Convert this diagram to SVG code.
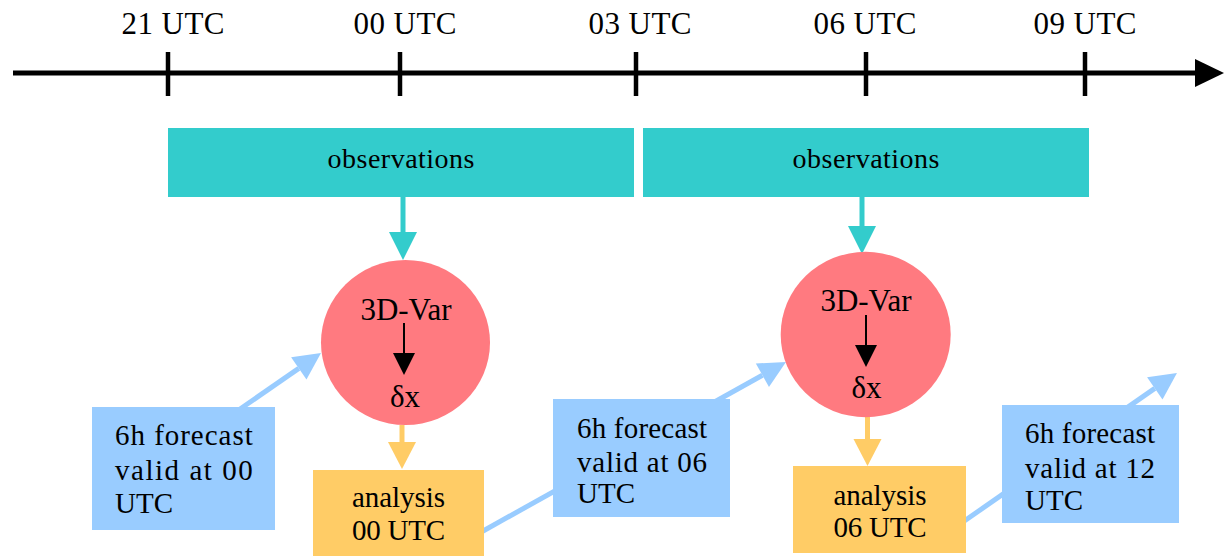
<svg xmlns="http://www.w3.org/2000/svg" width="1228" height="556" viewBox="0 0 1228 556" font-family="'Liberation Serif', 'DejaVu Serif', serif">
<style>
  text { font-family: 'Liberation Serif', 'Times New Roman', 'DejaVu Serif', serif; fill: #000; }
  .tl { font-size: 31px; text-anchor: middle; }
  .obs { font-size: 28px; text-anchor: middle; }
  .var { font-size: 31px; text-anchor: middle; }
  .dx { font-size: 31px; text-anchor: middle; }
  .lbl { font-size: 29px; }
  .mid { text-anchor: middle; }
  .teal { fill: #33CCCC; }
  .red { fill: #FF7A80; }
  .blue { fill: #99CCFF; }
  .orange { fill: #FFCC66; }
  .c-teal { stroke: #33CCCC; stroke-width: 5; fill: none; }
  .c-blue { stroke: #99CCFF; stroke-width: 5; fill: none; }
  .c-orange { stroke: #FFCC66; stroke-width: 5; fill: none; }
  .c-black { stroke: #000; stroke-width: 2; fill: none; }
  .axis { stroke: #000; stroke-width: 5; fill: none; }
  .tick { stroke: #000; stroke-width: 4.5; }
</style>
<defs>
  <marker id="hTeal" markerUnits="userSpaceOnUse" markerWidth="30" markerHeight="30" refX="0" refY="0" viewBox="0 -15 30 30" orient="auto" overflow="visible">
    <path d="M0,-14 L28,0 L0,14 z" fill="#33CCCC"/>
  </marker>
  <marker id="hBlue" markerUnits="userSpaceOnUse" markerWidth="30" markerHeight="30" refX="0" refY="0" viewBox="0 -15 30 30" orient="auto" overflow="visible">
    <path d="M0,-13.5 L27,0 L0,13.5 z" fill="#99CCFF"/>
  </marker>
  <marker id="hOrange" markerUnits="userSpaceOnUse" markerWidth="30" markerHeight="30" refX="0" refY="0" viewBox="0 -15 30 30" orient="auto" overflow="visible">
    <path d="M0,-14 L27,0 L0,14 z" fill="#FFCC66"/>
  </marker>
  <marker id="hBlack" markerUnits="userSpaceOnUse" markerWidth="30" markerHeight="30" refX="0" refY="0" viewBox="0 -15 30 30" orient="auto" overflow="visible">
    <path d="M0,-11 L22,0 L0,11 z" fill="#000"/>
  </marker>
  <marker id="hAxis" markerUnits="userSpaceOnUse" markerWidth="30" markerHeight="30" refX="0" refY="0" viewBox="0 -15 30 30" orient="auto" overflow="visible">
    <path d="M0,-14 L29,0 L0,14 z" fill="#000"/>
  </marker>
</defs>

<g id="timeline">
  <line class="axis" x1="13" y1="73" x2="1195" y2="73" marker-end="url(#hAxis)"/>
  <line class="tick" x1="168" y1="52" x2="168" y2="96"/>
  <line class="tick" x1="400" y1="52" x2="400" y2="96"/>
  <line class="tick" x1="636" y1="52" x2="636" y2="96"/>
  <line class="tick" x1="866" y1="52" x2="866" y2="96"/>
  <line class="tick" x1="1085" y1="52" x2="1085" y2="96"/>
  <text class="tl" x="173" y="34" textLength="103">21 UTC</text>
  <text class="tl" x="405" y="34" textLength="103">00 UTC</text>
  <text class="tl" x="640" y="34" textLength="103">03 UTC</text>
  <text class="tl" x="865" y="34" textLength="103">06 UTC</text>
  <text class="tl" x="1085" y="34" textLength="103">09 UTC</text>
</g>

<g id="connectors">
  <line class="c-teal" x1="403" y1="197" x2="403" y2="232" marker-end="url(#hTeal)"/>
  <line class="c-teal" x1="862" y1="197" x2="862" y2="226" marker-end="url(#hTeal)"/>
  <line class="c-orange" x1="402" y1="425" x2="402" y2="442" marker-end="url(#hOrange)"/>
  <line class="c-orange" x1="867.5" y1="417" x2="867.5" y2="439" marker-end="url(#hOrange)"/>
  <line class="c-blue" x1="230" y1="416" x2="298.8" y2="368.4" marker-end="url(#hBlue)"/>
  <line class="c-blue" x1="480" y1="532.7" x2="762.4" y2="375.2" marker-end="url(#hBlue)"/>
  <line class="c-blue" x1="960" y1="524" x2="1154.8" y2="388.4" marker-end="url(#hBlue)"/>
</g>

<g id="obs1">
  <rect class="teal" x="168" y="128" width="466" height="69"/>
  <text class="obs" x="401" y="168" textLength="147">observations</text>
</g>
<g id="obs2">
  <rect class="teal" x="643" y="128" width="446" height="69"/>
  <text class="obs" x="866" y="168" textLength="147">observations</text>
</g>

<g id="var1">
  <ellipse class="red" cx="405.5" cy="342.5" rx="84.5" ry="82.5"/>
  <text class="var" x="406" y="320">3D-Var</text>
  <line class="c-black" x1="404" y1="323" x2="404" y2="353" marker-end="url(#hBlack)"/>
  <text class="dx" x="405" y="407">δx</text>
</g>
<g id="var2">
  <ellipse class="red" cx="865.7" cy="334.5" rx="85" ry="82.7"/>
  <text class="var" x="866" y="311">3D-Var</text>
  <line class="c-black" x1="866" y1="315" x2="866" y2="345" marker-end="url(#hBlack)"/>
  <text class="dx" x="866.5" y="398">δx</text>
</g>

<g id="fc1">
  <rect class="blue" x="92" y="407" width="183" height="123"/>
  <text class="lbl" x="115" y="445" textLength="137.7" lengthAdjust="spacing">6h forecast</text>
  <text class="lbl" x="115" y="480" textLength="137.7" lengthAdjust="spacing">valid at 00</text>
  <text class="lbl" x="115" y="513">UTC</text>
</g>
<g id="fc2">
  <rect class="blue" x="553" y="399" width="177" height="118"/>
  <text class="lbl" x="577" y="438" textLength="130" lengthAdjust="spacing">6h forecast</text>
  <text class="lbl" x="577" y="472" textLength="130" lengthAdjust="spacing">valid at 06</text>
  <text class="lbl" x="577" y="503">UTC</text>
</g>
<g id="fc3">
  <rect class="blue" x="1002" y="405" width="177" height="118"/>
  <text class="lbl" x="1025" y="443" textLength="130" lengthAdjust="spacing">6h forecast</text>
  <text class="lbl" x="1025" y="478" textLength="130" lengthAdjust="spacing">valid at 12</text>
  <text class="lbl" x="1025" y="510">UTC</text>
</g>

<g id="an1">
  <rect class="orange" x="313" y="470" width="171" height="90"/>
  <text class="lbl mid" x="398.5" y="507" textLength="93">analysis</text>
  <text class="lbl mid" x="398.5" y="540" textLength="93">00 UTC</text>
</g>
<g id="an2">
  <rect class="orange" x="793" y="466" width="173" height="87"/>
  <text class="lbl mid" x="880" y="505" textLength="93">analysis</text>
  <text class="lbl mid" x="880" y="537" textLength="93">06 UTC</text>
</g>
</svg>
